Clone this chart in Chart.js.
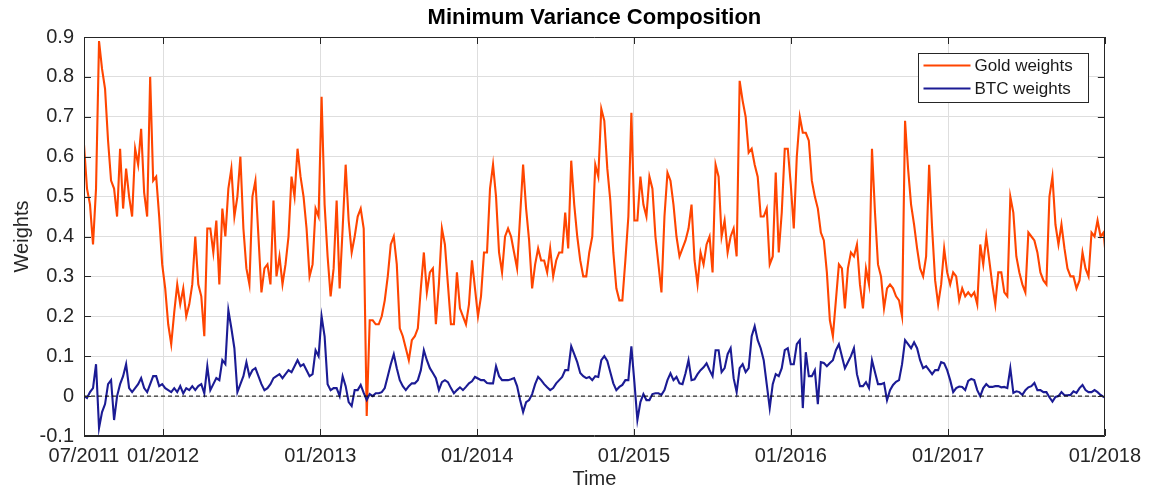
<!DOCTYPE html>
<html>
<head>
<meta charset="utf-8">
<script src="https://cdn.jsdelivr.net/npm/chart.js@4.4.1/dist/chart.umd.min.js"></script>
<style>
  html, body { margin: 0; padding: 0; background: #ffffff; }
  canvas { display: block; }
</style>
</head>
<body>
<canvas id="c" width="1149" height="489"></canvas>
<script>
// ---------------- DATA ----------------
const chartTitle = 'Minimum Variance Composition';
const xAxisTitle = 'Time';
const yAxisTitle = 'Weights';
const seriesNames = ['Gold weights', 'BTC weights'];

// weekly observations, starting on this date
const firstDate = '2011-07-01';
const stepDays = 7;

const goldWeights = [
  0.63,0.52,0.48,0.38,0.52,0.89,0.82,0.77,0.64,0.54,0.52,0.45,0.62,0.47,0.57,0.50,0.45,0.62,0.58,0.67,
  0.51,0.45,0.80,0.54,0.55,0.45,0.33,0.27,0.18,0.13,0.21,0.28,0.23,0.27,0.20,0.23,0.28,0.40,0.28,0.25,
  0.15,0.42,
  0.42,0.36,0.44,0.28,0.47,0.40,0.52,0.57,0.45,0.50,0.60,0.42,0.32,0.28,0.50,0.54,0.40,0.26,0.32,0.33,
  0.28,0.49,0.30,0.35,0.28,0.33,0.40,0.55,0.50,0.62,0.55,0.50,0.42,0.30,0.33,0.47,0.45,0.75,0.48,0.35,
  0.25,0.32,
  0.49,0.27,0.42,0.58,0.44,0.36,0.40,0.45,0.47,0.42,-0.05,0.19,0.19,0.18,0.18,0.20,0.24,0.30,0.38,0.40,
  0.33,0.17,0.15,0.12,0.09,0.14,0.15,0.17,0.27,0.36,0.26,0.31,0.32,0.18,0.28,0.42,0.38,0.28,0.18,0.18,
  0.31,0.22,
  0.20,0.18,0.23,0.34,0.27,0.20,0.25,0.36,0.36,0.52,0.58,0.50,0.36,0.31,0.40,0.42,0.40,0.36,0.32,0.45,
  0.58,0.47,0.39,0.27,0.33,0.37,0.34,0.34,0.31,0.37,0.30,0.34,0.36,0.36,0.46,0.37,0.59,0.48,0.40,0.34,
  0.30,
  0.30,0.36,0.40,0.58,0.55,0.72,0.69,0.57,0.49,0.36,0.27,0.24,0.24,0.34,0.45,0.71,0.44,0.44,0.55,0.48,
  0.45,0.55,0.52,0.40,0.33,0.26,0.45,0.56,0.54,0.48,0.40,0.35,0.37,0.39,0.42,0.48,0.34,0.28,0.36,0.33,
  0.38,0.40,
  0.31,0.58,0.55,0.40,0.44,0.36,0.40,0.42,0.35,0.79,0.74,0.70,0.61,0.62,0.58,0.55,0.45,0.45,0.47,0.33,
  0.35,0.56,0.36,0.46,0.62,0.62,0.53,0.42,0.60,0.70,0.66,0.66,0.64,0.54,0.50,0.47,0.41,0.39,0.31,0.19,
  0.15,
  0.24,0.33,0.32,0.22,0.32,0.36,0.35,0.38,0.28,0.22,0.32,0.28,0.62,0.46,0.33,0.30,0.22,0.27,0.28,0.27,
  0.25,0.24,0.20,0.69,0.57,0.48,0.43,0.37,0.32,0.30,0.35,0.58,0.42,0.29,0.23,0.28,0.37,0.31,0.28,0.31,
  0.30,0.24,
  0.27,0.25,0.26,0.25,0.26,0.23,0.38,0.33,0.40,0.34,0.28,0.23,0.31,0.31,0.26,0.25,0.50,0.46,0.35,0.31,
  0.28,0.26,0.41,0.40,0.39,0.36,0.31,0.29,0.28,0.50,0.55,0.43,0.38,0.43,0.37,0.32,0.30,0.30,0.27,0.29,
  0.36,0.32,0.30,0.41,0.40,0.44,0.40,0.41,0.33
];

const btcWeights = [
  0.0,-0.005,0.01,0.02,0.08,-0.08,-0.04,-0.02,0.03,0.04,-0.06,0.0,0.03,0.05,0.08,0.02,0.01,0.02,0.03,0.045,
  0.02,0.01,0.03,0.05,0.05,0.025,0.03,0.02,0.015,0.01,0.02,0.01,0.025,0.007,0.02,0.015,0.025,0.015,0.025,0.03,
  0.007,0.075,
  0.015,0.03,0.045,0.04,0.09,0.08,0.215,0.17,0.12,0.01,0.03,0.05,0.085,0.05,0.065,0.07,0.05,0.03,0.015,0.02,
  0.03,0.045,0.05,0.055,0.045,0.055,0.065,0.06,0.075,0.09,0.075,0.08,0.065,0.05,0.055,0.115,0.10,0.20,0.15,0.03,
  0.015,0.02,
  0.02,0.0,0.05,0.025,-0.015,-0.025,0.015,0.015,0.028,0.008,-0.01,0.005,0.0,0.007,0.007,0.01,0.02,0.05,0.08,0.105,
  0.07,0.04,0.025,0.015,0.025,0.032,0.032,0.04,0.065,0.115,0.09,0.07,0.058,0.045,0.015,0.035,0.04,0.035,0.02,0.007,
  0.015,0.022,
  0.015,0.023,0.032,0.037,0.048,0.044,0.04,0.04,0.033,0.032,0.032,0.075,0.05,0.04,0.04,0.04,0.042,0.045,0.025,-0.01,
  -0.04,-0.015,-0.01,0.005,0.03,0.048,0.04,0.03,0.022,0.015,0.02,0.032,0.04,0.048,0.065,0.065,0.125,0.105,0.085,0.058,
  0.05,
  0.045,0.048,0.04,0.05,0.048,0.09,0.10,0.088,0.06,0.032,0.015,0.023,0.028,0.04,0.04,0.125,0.035,-0.06,-0.015,0.005,
  -0.01,-0.01,0.005,0.007,0.007,0.003,0.015,0.04,0.057,0.04,0.048,0.032,0.03,0.057,0.09,0.04,0.042,0.055,0.065,0.072,
  0.082,0.065,
  0.05,0.115,0.115,0.06,0.07,0.105,0.12,0.045,0.01,0.07,0.08,0.06,0.07,0.15,0.175,0.14,0.12,0.09,0.03,-0.03,
  0.03,0.055,0.05,0.07,0.115,0.12,0.08,0.08,0.13,0.14,-0.03,0.11,0.05,0.05,0.065,-0.02,0.085,0.083,0.075,0.083,
  0.09,
  0.115,0.13,0.10,0.07,0.085,0.10,0.12,0.055,0.025,0.025,0.035,0.02,0.09,0.06,0.03,0.03,0.033,-0.01,0.015,0.028,
  0.036,0.04,0.08,0.14,0.13,0.12,0.135,0.12,0.09,0.07,0.075,0.065,0.055,0.065,0.065,0.085,0.082,0.065,0.04,0.01,
  0.02,0.024,
  0.023,0.015,0.038,0.043,0.04,0.015,0.0,0.02,0.03,0.023,0.023,0.025,0.025,0.022,0.023,0.02,0.07,0.008,0.012,0.01,
  0.003,0.015,0.022,0.025,0.033,0.015,0.015,0.01,0.01,-0.003,-0.014,-0.002,0.0,0.01,0.002,0.002,0.003,0.012,0.008,0.02,
  0.028,0.015,0.01,0.01,0.015,0.01,0.003,-0.002,-0.006
];

const xTickDates  = ['2011-07-01','2012-01-01','2013-01-01','2014-01-01','2015-01-01','2016-01-01','2017-01-01','2018-01-01'];
const xTickLabels = ['07/2011','01/2012','01/2013','01/2014','01/2015','01/2016','01/2017','01/2018'];
const yTickValues = [-0.1, 0, 0.1, 0.2, 0.3, 0.4, 0.5, 0.6, 0.7, 0.8, 0.9];
const yTickLabels = ['-0.1','0','0.1','0.2','0.3','0.4','0.5','0.6','0.7','0.8','0.9'];
const zeroLevel = 0;

// ---------------- BUILD ----------------
const DAY = 864e5;
const t0 = Date.parse(firstDate);
const toPoints = arr => arr.map((v, i) => ({ x: t0 + i * stepDays * DAY, y: v }));
const xTickMs = xTickDates.map(d => Date.parse(d));
const xMin = xTickMs[0], xMax = xTickMs[xTickMs.length - 1];

const FONT = '"Liberation Sans", Arial, Helvetica, sans-serif';
const AXIS_COLOR = '#262626';
const GOLD = '#ff4500';
const BTC = '#1b1b94';

const boxPlugin = {
  id: 'matlabBox',
  afterDatasetsDraw(chart) {
    const { ctx, chartArea: a, scales: { x, y } } = chart;
    ctx.save();
    ctx.strokeStyle = AXIS_COLOR;
    ctx.lineWidth = 1;
    ctx.beginPath();
    ctx.rect(Math.round(a.left) + 0.5, Math.round(a.top) + 0.5,
             Math.round(a.right) - Math.round(a.left) - 1, Math.round(a.bottom) - Math.round(a.top) - 1);
    const tl = 7;
    x.ticks.forEach(t => {
      const px = Math.round(x.getPixelForValue(t.value)) + 0.5;
      ctx.moveTo(px, a.bottom); ctx.lineTo(px, a.bottom - tl);
      ctx.moveTo(px, a.top); ctx.lineTo(px, a.top + tl);
    });
    y.ticks.forEach(t => {
      const py = Math.round(y.getPixelForValue(t.value)) + 0.5;
      ctx.moveTo(a.left, py); ctx.lineTo(a.left + tl, py);
      ctx.moveTo(a.right, py); ctx.lineTo(a.right - tl, py);
    });
    ctx.stroke();
    ctx.restore();
  },
  afterDraw(chart) {
    const { ctx, chartArea: a } = chart;
    const lw = 170, lh = 49;
    const lx = Math.round(a.right - 17 - lw) + 0.5, ly = Math.round(a.top + 16) + 0.5;
    ctx.save();
    ctx.fillStyle = '#ffffff';
    ctx.fillRect(lx, ly, lw, lh);
    ctx.strokeStyle = AXIS_COLOR;
    ctx.lineWidth = 1;
    ctx.strokeRect(lx, ly, lw, lh);
    ctx.font = '17px ' + FONT;
    ctx.textBaseline = 'middle';
    ctx.textAlign = 'left';
    chart.data.datasets.slice(0, 2).forEach((ds, i) => {
      const yy = ly + 12 + i * 23;
      ctx.strokeStyle = ds.borderColor;
      ctx.lineWidth = 2.2;
      ctx.beginPath();
      ctx.moveTo(lx + 5, yy); ctx.lineTo(lx + 52, yy);
      ctx.stroke();
      ctx.fillStyle = '#1a1a1a';
      ctx.fillText(ds.label, lx + 56, yy + 1);
    });
    ctx.restore();
  }
};

new Chart(document.getElementById('c'), {
  type: 'line',
  data: {
    datasets: [
      { label: seriesNames[0], data: toPoints(goldWeights), borderColor: GOLD, borderWidth: 2.1,
        pointRadius: 0, tension: 0, fill: false, order: 2 },
      { label: seriesNames[1], data: toPoints(btcWeights), borderColor: BTC, borderWidth: 2.1,
        pointRadius: 0, tension: 0, fill: false, order: 1 },
      { label: 'zero', data: [{ x: xMin, y: zeroLevel }, { x: xMax, y: zeroLevel }], borderColor: '#000000',
        borderWidth: 1, borderDash: [4, 3], pointRadius: 0, fill: false, order: 0 }
    ]
  },
  options: {
    responsive: false,
    animation: false,
    layout: { padding: { left: 0, right: 44, top: 0, bottom: 0 } },
    plugins: {
      legend: { display: false },
      tooltip: { enabled: false },
      title: {
        display: true, text: chartTitle, fullSize: false, color: '#000000',
        font: { family: FONT, size: 22, weight: 'bold' },
        padding: { top: 5, bottom: 5.6 }
      }
    },
    scales: {
      x: {
        type: 'linear', min: xMin, max: xMax,
        afterBuildTicks: s => { s.ticks = xTickMs.map(v => ({ value: v })); },
        afterFit: s => { s.height = 53; },
        ticks: {
          autoSkip: false, maxRotation: 0, minRotation: 0, padding: 8, color: AXIS_COLOR,
          font: { family: FONT, size: 20 },
          callback: (v, i) => xTickLabels[i]
        },
        grid: { color: '#dedede', lineWidth: 1, drawTicks: false },
        border: { display: true, color: AXIS_COLOR, width: 1 },
        title: { display: true, text: xAxisTitle, color: AXIS_COLOR,
                 font: { family: FONT, size: 20, lineHeight: 1.0 }, padding: { top: 0, bottom: 0 } }
      },
      y: {
        min: -0.1, max: 0.9,
        afterBuildTicks: s => { s.ticks = yTickValues.map(v => ({ value: v })); },
        afterFit: s => { s.width = 84; },
        ticks: {
          padding: 10, color: AXIS_COLOR, font: { family: FONT, size: 20 },
          callback: (v, i) => yTickLabels[i]
        },
        grid: { color: '#dedede', lineWidth: 1, drawTicks: false },
        border: { display: true, color: AXIS_COLOR, width: 1 },
        title: { display: true, text: yAxisTitle, color: AXIS_COLOR,
                 font: { family: FONT, size: 20 }, padding: { top: 10, bottom: 0 } }
      }
    }
  },
  plugins: [boxPlugin]
});
</script>
</body>
</html>
